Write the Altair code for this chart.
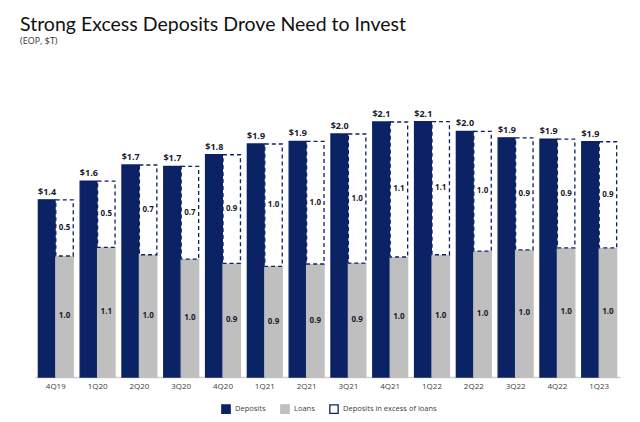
import altair as alt
import pandas as pd

quarters = ["4Q19", "1Q20", "2Q20", "3Q20", "4Q20", "1Q21", "2Q21", "3Q21",
            "4Q21", "1Q22", "2Q22", "3Q22", "4Q22", "1Q23"]
deposits = [1.435, 1.587, 1.717, 1.705, 1.80, 1.887, 1.908, 1.968,
            2.065, 2.068, 1.99, 1.937, 1.927, 1.905]
loans = [0.98, 1.05, 0.99, 0.955, 0.92, 0.896, 0.915, 0.923,
         0.972, 0.99, 1.02, 1.03, 1.045, 1.045]
deposit_labels = ["$1.4", "$1.6", "$1.7", "$1.7", "$1.8", "$1.9", "$1.9", "$2.0",
                  "$2.1", "$2.1", "$2.0", "$1.9", "$1.9", "$1.9"]
loan_labels = ["1.0", "1.1", "1.0", "1.0", "0.9", "0.9", "0.9", "0.9",
               "1.0", "1.0", "1.0", "1.0", "1.0", "1.0"]
excess_labels = ["0.5", "0.5", "0.7", "0.7", "0.9", "1.0", "1.0", "1.0",
                 "1.1", "1.1", "1.0", "0.9", "0.9", "0.9"]

series_names = ["Deposits", "Loans", "Deposits in excess of loans"]
NAVY = "#0b2265"
GREY = "#bfbfbf"

rows = []
for i, q in enumerate(quarters):
    rows.append(dict(quarter=q, series="Deposits", side="a", y0=0, y1=deposits[i],
                     label=deposit_labels[i]))
    rows.append(dict(quarter=q, series="Loans", side="b", y0=0, y1=loans[i],
                     label=loan_labels[i]))
    rows.append(dict(quarter=q, series="Deposits in excess of loans", side="b",
                     y0=loans[i], y1=deposits[i], label=excess_labels[i]))
df = pd.DataFrame(rows)
df["mid"] = (df["y0"] + df["y1"]) / 2

x_enc = alt.X("quarter:N", sort=quarters, title=None,
              scale=alt.Scale(paddingInner=0.165, paddingOuter=0.08),
              axis=alt.Axis(labelAngle=0, ticks=False, domainColor="#d0d0d0",
                            domainWidth=1.5, labelColor="#404040", labelFontSize=8,
                            labelFont="Open Sans", labelPadding=5, grid=False))
xoff = alt.XOffset("side:N", scale=alt.Scale(domain=["a", "b"], paddingInner=0, paddingOuter=0))
y_scale = alt.Scale(domain=[0, 2.3], nice=False)

bars = alt.Chart(df).mark_bar(strokeWidth=1.3).encode(
    x=x_enc,
    xOffset=xoff,
    y=alt.Y("y1:Q", scale=y_scale, axis=None),
    y2="y0:Q",
    fill=alt.Fill("series:N", scale=alt.Scale(domain=series_names, range=[NAVY, GREY, "white"]),
                  legend=alt.Legend(title=None, orient="none", direction="horizontal",
                                    legendX=186, legendY=311,
                                    symbolType="square", symbolSize=70, symbolStrokeWidth=1.3,
                                    labelFontSize=7.5, labelColor="#404040", labelFont="Open Sans",
                                    columnPadding=12)),
    stroke=alt.Stroke("series:N", scale=alt.Scale(domain=series_names, range=[NAVY, GREY, NAVY]),
                      legend=alt.Legend(title=None)),
    strokeDash=alt.condition(alt.datum.series == "Deposits in excess of loans",
                             alt.value([4, 3]), alt.value([1, 0])),
)

top_labels = alt.Chart(df[df.series == "Deposits"]).mark_text(
    baseline="bottom", dy=-3, fontSize=9, fontWeight="bold", color="#1a1a2e", font="Open Sans"
).encode(x=x_enc, xOffset=xoff, y=alt.Y("y1:Q", scale=y_scale), text="label:N")

inner_labels = alt.Chart(df[df.series != "Deposits"]).mark_text(
    baseline="middle", fontSize=8, fontWeight="bold", color="#1a1a2e", font="Open Sans"
).encode(x=x_enc, xOffset=xoff, y=alt.Y("mid:Q", scale=y_scale), text="label:N")

chart = alt.layer(bars, top_labels, inner_labels).properties(
    width=585, height=284,
    autosize=alt.AutoSizeParams(type="none"),
    padding={"left": 27, "top": 85, "right": 10, "bottom": 40},
    title=alt.TitleParams(
        "Strong Excess Deposits Drove Need to Invest",
        subtitle="(EOP, $T)",
        anchor="start", frame="group", dx=-15, offset=46,
        font="Lato", fontSize=19.5, fontWeight="normal", color="#111111",
        subtitleFont="Open Sans", subtitleFontSize=9, subtitleColor="#333333",
        subtitlePadding=2,
    ),
).configure_view(stroke=None)

chart.save("out.html", embed_options={"renderer": "svg", "actions": False})
